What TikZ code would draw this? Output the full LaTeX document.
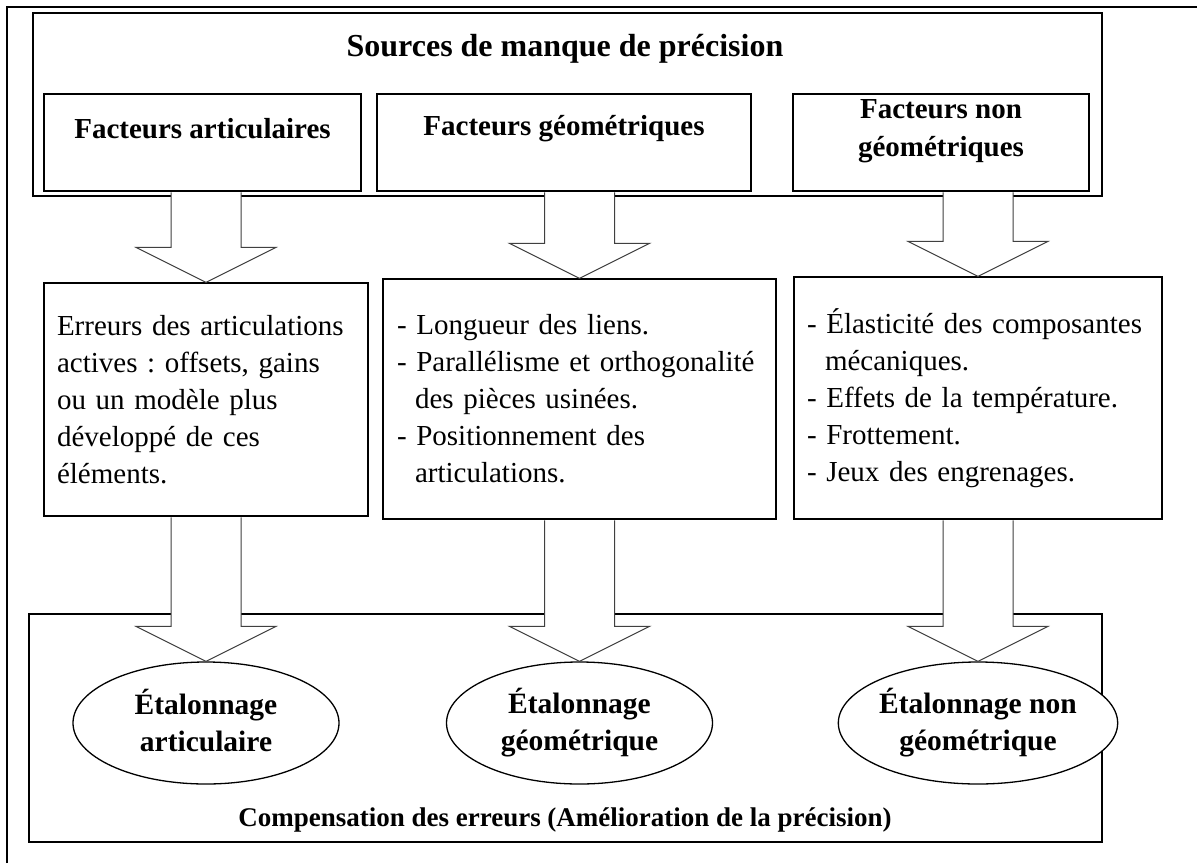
\documentclass[tikz,border=0pt]{standalone}
\usepackage{fontspec}
\setmainfont{Liberation Serif}
\frenchspacing
\usetikzlibrary{shapes.geometric,calc,fit}
\newcommand{\blockarr}[2]{%
  \fill[white] let \p1=(#1.south), \p2=(#2.north) in
    (\x2-35pt,\y1-0.7pt) -- (\x2-35pt,\y2+35pt) -- (\x2-70pt,\y2+35pt) -- (\x2,\y2)
    -- (\x2+70pt,\y2+35pt) -- (\x2+35pt,\y2+35pt) -- (\x2+35pt,\y1-0.7pt) -- cycle;
  \draw[barrow] let \p1=(#1.south), \p2=(#2.north) in
    (\x2-35pt,\y1-0.7pt) -- (\x2-35pt,\y2+35pt) -- (\x2-70pt,\y2+35pt) -- (\x2,\y2)
    -- (\x2+70pt,\y2+35pt) -- (\x2+35pt,\y2+35pt) -- (\x2+35pt,\y1-0.7pt);}
\begin{document}
\begin{tikzpicture}[x=1pt,y=-1pt,
  box/.style={draw=black, line width=1.3pt, fill=white, inner sep=0pt},
  ell/.style={draw=black, ellipse, line width=1.3pt, fill=white, inner sep=0pt,
    minimum width=266pt, minimum height=122pt,
    font=\fontsize{29.5}{37}\selectfont\bfseries, align=center},
  ttl/.style={font=\fontsize{32}{38}\selectfont\bfseries, inner sep=0pt},
  ftxt/.style={font=\fontsize{29}{38}\selectfont\bfseries, align=center, inner sep=0pt},
  mtxt/.style={font=\fontsize{29}{37}\selectfont, align=left},
  btxt/.style={font=\fontsize{27}{32}\selectfont\bfseries, inner sep=0pt},
  barrow/.style={draw=black!75, line width=1pt, line join=miter}]
\useasboundingbox (0,0) rectangle (1197,863);
\fill[white] (0,0) rectangle (1197,863);
\draw[line width=2.5pt] (7,863) -- (7,7) -- (1197,7);
% top and bottom frames
\node[box, fit={(33,13)(1102,196)}] (src) {};
\node[ttl] (srct) at (565,49) {Sources de manque de précision};
\node[box, fit={(29,614)(1102,842)}] (comp) {};
\node[btxt] (compt) at (565,820) {Compensation des erreurs (Amélioration de la précision)};
% factor boxes
\node[box, fit={(44,94)(361,191)}] (f1) {};
\node[box, fit={(377,94)(751,191)}] (f2) {};
\node[box, fit={(793,94)(1089,191)}] (f3) {};
\node[ftxt] (f1t) at (202.5,129) {Facteurs articulaires};
\node[ftxt] (f2t) at (564,129) {Facteurs géométriques};
\node[ftxt] (f3t) at (941,131) {Facteurs non\\géométriques};
% middle boxes
\node[box, mtxt, minimum width=324pt, minimum height=233pt, text width=298pt] (m1) at (206,399.5)
  {Erreurs des articulations\\actives : offsets, gains\\ou un modèle plus\\développé de ces\\éléments.};
\node[box, mtxt, minimum width=393pt, minimum height=240pt, text width=365pt] (m2) at (579.5,399)
  {- Longueur des liens.\\- Parallélisme et orthogonalité\\\hspace*{18pt}des pièces usinées.\\- Positionnement des\\\hspace*{18pt}articulations.};
\node[box, mtxt, minimum width=368pt, minimum height=242pt, text width=342pt] (m3) at (978,398)
  {- Élasticité des composantes\\\hspace*{18pt}mécaniques.\\- Effets de la température.\\- Frottement.\\- Jeux des engrenages.};
% ellipses
\node[ell] (e1) at (206,723) {Étalonnage\\articulaire\vphantom{q}};
\node[ell] (e2) at (579.5,723) {Étalonnage\\géométrique};
\node[ell] (e3) at (978,723) {Étalonnage non\\géométrique};
% block arrows
\blockarr{f1}{m1}
\blockarr{f2}{m2}
\blockarr{f3}{m3}
\blockarr{m1}{e1}
\blockarr{m2}{e2}
\blockarr{m3}{e3}
\end{tikzpicture}
\end{document}
